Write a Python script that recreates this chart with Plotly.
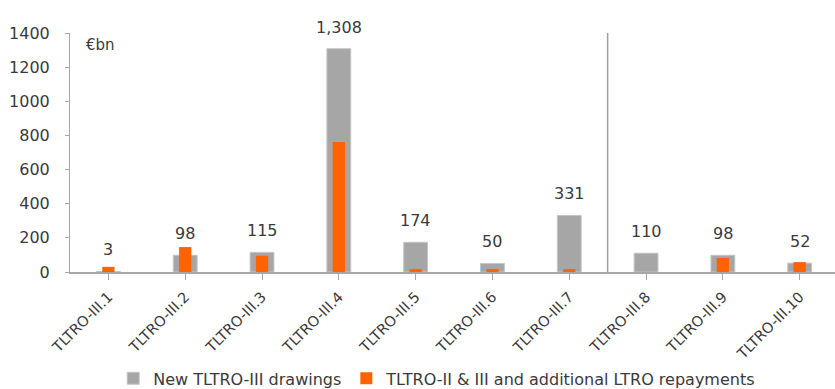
import plotly.graph_objects as go

categories = ["TLTRO-III.1", "TLTRO-III.2", "TLTRO-III.3", "TLTRO-III.4", "TLTRO-III.5",
              "TLTRO-III.6", "TLTRO-III.7", "TLTRO-III.8", "TLTRO-III.9", "TLTRO-III.10"]
new_drawings = [3, 98, 115, 1308, 174, 50, 331, 110, 98, 52]
repayments = [30, 146, 95, 762, 17, 17, 17, 0, 82, 58]
drawing_labels = ["3", "98", "115", "1,308", "174", "50", "331", "110", "98", "52"]
y_ticks = [0, 200, 400, 600, 800, 1000, 1200, 1400]

FONT = "DejaVu Sans"
TXT = "#3a3a3a"
GRAY = "#A6A6A6"
ORANGE = "#FF6200"

x_idx = list(range(len(categories)))

fig = go.Figure()
fig.add_trace(go.Bar(
    x=x_idx, y=new_drawings, name="New TLTRO-III drawings",
    marker=dict(color=GRAY, line=dict(color="#C4C4C4", width=1)),
    width=0.31,
))
fig.add_trace(go.Bar(
    x=x_idx, y=repayments, name="TLTRO-II & III and additional LTRO repayments",
    marker=dict(color=ORANGE, line=dict(width=0)),
    width=0.16,
))

for i, (v, lab) in enumerate(zip(new_drawings, drawing_labels)):
    fig.add_annotation(x=i, y=v, text=lab, showarrow=False, yanchor="bottom",
                       yshift=10, font=dict(family=FONT, size=16, color=TXT))

fig.add_annotation(x=0.018, y=0.95, xref="paper", yref="paper", text="€bn",
                   showarrow=False, xanchor="left", yanchor="middle",
                   font=dict(family=FONT, size=15, color=TXT))

fig.add_shape(type="line", x0=6.5, x1=6.5, y0=0, y1=1400, xref="x", yref="y",
              line=dict(color="#A0A0A0", width=1.5))

fig.update_layout(
    width=835, height=389,
    margin=dict(l=70, r=0, t=33, b=117, autoexpand=False),
    barmode="overlay",
    plot_bgcolor="white", paper_bgcolor="white",
    font=dict(family=FONT, color=TXT),
    showlegend=True,
    legend=dict(orientation="h", x=0.48, xanchor="center", y=-0.445, yanchor="middle",
                font=dict(family=FONT, size=16, color=TXT), traceorder="normal",
                itemwidth=30, tracegroupgap=0),
    xaxis=dict(
        tickmode="array", tickvals=x_idx, ticktext=categories,
        range=[-0.5, 9.46], tickangle=-45, automargin=False,
        showline=True, linecolor=GRAY, linewidth=1.5,
        ticks="outside", tickson="boundaries", ticklen=6, tickcolor=GRAY,
        ticklabelstandoff=3,
        showgrid=False, zeroline=False,
        tickfont=dict(family=FONT, size=14.5, color=TXT),
    ),
    yaxis=dict(
        range=[0, 1400], tickmode="array", tickvals=y_ticks, automargin=False,
        showline=True, linecolor=GRAY, linewidth=1,
        ticks="outside", ticklen=4, tickcolor=GRAY,
        ticklabelstandoff=12,
        showgrid=False, zeroline=False,
        tickfont=dict(family=FONT, size=16, color=TXT),
    ),
)

fig.write_html("out.html")
